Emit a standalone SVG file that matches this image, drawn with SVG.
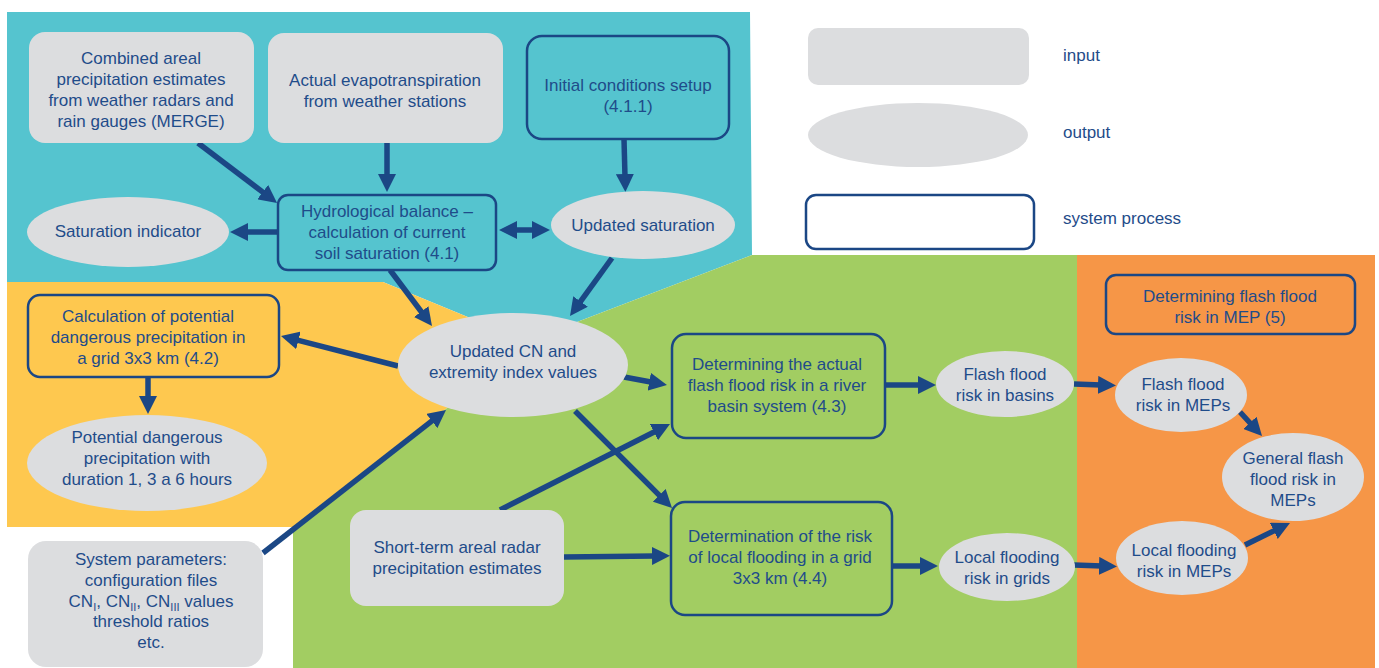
<svg xmlns="http://www.w3.org/2000/svg" width="1379" height="668" viewBox="0 0 1379 668">
<defs>
<style>
text{font-family:"Liberation Sans",Arial,sans-serif;font-size:17px;fill:#1F4C8A;text-anchor:middle}
.lg{text-anchor:start}
.in{fill:#DCDDDF}
.out{fill:#DCDDDF}
.proc{stroke:#1B4785;stroke-width:2.5}
.con{stroke:#1B4785;stroke-width:5.5;fill:none;marker-end:url(#ah)}
</style>
<marker id="ah" viewBox="0 0 18 18" refX="3" refY="9" markerWidth="18" markerHeight="18" markerUnits="userSpaceOnUse" orient="auto-start-reverse">
<path d="M0,0 L18,9 L0,18 z" fill="#1B4785"/>
</marker>
</defs>
<g id="background">
<polygon points="7,12 750,12 752,255 577,322 500,362 475,320 383,282 7,282" fill="#55C4CF"/>
<polygon points="7,282 383,282 475,320 500,362 447,408 293,527 7,527" fill="#FEC84F"/>
<polygon points="293,668 293,527 447,408 500,362 577,322 752,255 1077,255 1077,668" fill="#A2CD62"/>
<rect x="1077" y="255" width="298" height="413" fill="#F69647"/>
</g>
<g id="legend">
<rect class="in" x="808" y="28" width="221" height="57" rx="10"/>
<ellipse class="out" cx="918" cy="135" rx="110" ry="32"/>
<rect class="proc" x="806" y="195" width="228" height="54" rx="10" fill="#FFFFFF"/>
<text class="lg" x="1063" y="61">input</text>
<text class="lg" x="1063" y="138">output</text>
<text class="lg" x="1063" y="224">system process</text>
</g>
<g id="connectors">
<line class="con" x1="198" y1="143" x2="265.1" y2="193.9"/>
<line class="con" x1="387" y1="143" x2="387" y2="177"/>
<line class="con" x1="278" y1="232" x2="245" y2="232"/>
<line class="con" x1="514" y1="230" x2="535" y2="230" style="marker-start:url(#ah)"/>
<line class="con" x1="624" y1="139" x2="625" y2="177"/>
<line class="con" x1="612" y1="258" x2="578.8" y2="303.9"/>
<line class="con" x1="390" y1="270" x2="423" y2="314"/>
<line class="con" x1="398" y1="366" x2="295.5" y2="339.7"/>
<line class="con" x1="148" y1="377" x2="148" y2="399"/>
<line class="con" x1="263" y1="553" x2="434.2" y2="419.2"/>
<line class="con" x1="624" y1="377" x2="652.2" y2="382.3"/>
<line class="con" x1="575" y1="411" x2="661.4" y2="497.4"/>
<line class="con" x1="500" y1="510" x2="656.6" y2="430.8"/>
<line class="con" x1="564" y1="557" x2="655" y2="556"/>
<line class="con" x1="885" y1="385" x2="921" y2="385"/>
<line class="con" x1="892" y1="566" x2="923" y2="566"/>
<line class="con" x1="1074" y1="384" x2="1101" y2="385"/>
<line class="con" x1="1074" y1="565" x2="1102" y2="566"/>
<line class="con" x1="1240" y1="412" x2="1251.9" y2="425"/>
<line class="con" x1="1245" y1="545" x2="1276.5" y2="529.6"/>
</g>
<g id="n-merge">
<rect class="in" x="29" y="32" width="225" height="111" rx="16"/>
<text x="141" y="64">Combined areal</text>
<text x="141" y="85">precipitation estimates</text>
<text x="141" y="106">from weather radars and</text>
<text x="141" y="127">rain gauges (MERGE)</text>
</g>
<g id="n-evapo">
<rect class="in" x="268" y="33" width="235" height="110" rx="16"/>
<text x="385" y="86">Actual evapotranspiration</text>
<text x="385" y="107">from weather stations</text>
</g>
<g id="n-initial">
<rect class="proc" x="527" y="36" width="202" height="103" rx="15" fill="#55C4CF"/>
<text x="628" y="91">Initial conditions setup</text>
<text x="628" y="112">(4.1.1)</text>
</g>
<g id="n-hydro">
<rect class="proc" x="278" y="195" width="218" height="75" rx="10" fill="#55C4CF"/>
<text x="387" y="217">Hydrological balance –</text>
<text x="387" y="238">calculation of current</text>
<text x="387" y="259">soil saturation (4.1)</text>
</g>
<g id="n-satind">
<ellipse class="out" cx="128" cy="232" rx="101" ry="35"/>
<text x="128" y="237">Saturation indicator</text>
</g>
<g id="n-updsat">
<ellipse class="out" cx="643" cy="225" rx="92" ry="34"/>
<text x="643" y="231">Updated saturation</text>
</g>
<g id="n-calc42">
<rect class="proc" x="28" y="295" width="251" height="82" rx="12" fill="#FEC84F"/>
<text x="148" y="322">Calculation of potential</text>
<text x="148" y="343">dangerous precipitation in</text>
<text x="148" y="364">a grid 3x3 km (4.2)</text>
</g>
<g id="n-potdang">
<ellipse class="out" cx="147" cy="463" rx="120" ry="48"/>
<text x="147" y="443">Potential dangerous</text>
<text x="147" y="464">precipitation with</text>
<text x="147" y="485">duration 1, 3 a 6 hours</text>
</g>
<g id="n-updcn">
<ellipse class="out" cx="513" cy="365" rx="115" ry="52"/>
<text x="513" y="357">Updated CN and</text>
<text x="513" y="378">extremity index values</text>
</g>
<g id="n-sysparam">
<rect class="in" x="28" y="541" width="235" height="126" rx="18"/>
<text x="151" y="565">System parameters:</text>
<text x="151" y="586">configuration files</text>
<text x="151" y="607">CN<tspan font-size="11" dy="4">I</tspan><tspan dy="-4">, CN</tspan><tspan font-size="11" dy="4">II</tspan><tspan dy="-4">, CN</tspan><tspan font-size="11" dy="4">III</tspan><tspan dy="-4"> values</tspan></text>
<text x="151" y="627">threshold ratios</text>
<text x="151" y="648">etc.</text>
</g>
<g id="n-shortterm">
<rect class="in" x="350" y="510" width="214" height="96" rx="16"/>
<text x="457" y="553">Short-term areal radar</text>
<text x="457" y="574">precipitation estimates</text>
</g>
<g id="n-det43">
<rect class="proc" x="672" y="334" width="213" height="104" rx="14" fill="#A2CD62"/>
<text x="777" y="370">Determining the actual</text>
<text x="777" y="391">flash flood risk in a river</text>
<text x="777" y="412">basin system (4.3)</text>
</g>
<g id="n-det44">
<rect class="proc" x="671" y="502" width="221" height="113" rx="14" fill="#A2CD62"/>
<text x="780" y="542">Determination of the risk</text>
<text x="780" y="563">of local flooding in a grid</text>
<text x="780" y="584">3x3 km (4.4)</text>
</g>
<g id="n-ffbasins">
<ellipse class="out" cx="1005" cy="384" rx="69" ry="33"/>
<text x="1005" y="380">Flash flood</text>
<text x="1005" y="401">risk in basins</text>
</g>
<g id="n-lfgrids">
<ellipse class="out" cx="1007" cy="567" rx="68" ry="34"/>
<text x="1007" y="563">Local flooding</text>
<text x="1007" y="584">risk in grids</text>
</g>
<g id="n-mep5">
<rect class="proc" x="1106" y="275" width="249" height="59" rx="10" fill="#F69647"/>
<text x="1230" y="302">Determining flash flood</text>
<text x="1230" y="323">risk in MEP (5)</text>
</g>
<g id="n-ffmeps">
<ellipse class="out" cx="1181" cy="395" rx="66" ry="37"/>
<text x="1183" y="390">Flash flood</text>
<text x="1183" y="411">risk in MEPs</text>
</g>
<g id="n-general">
<ellipse class="out" cx="1293" cy="477" rx="71" ry="44"/>
<text x="1293" y="464">General flash</text>
<text x="1293" y="485">flood risk in</text>
<text x="1293" y="506">MEPs</text>
</g>
<g id="n-lfmeps">
<ellipse class="out" cx="1182" cy="558" rx="66" ry="37"/>
<text x="1184" y="556">Local flooding</text>
<text x="1184" y="577">risk in MEPs</text>
</g>
</svg>
